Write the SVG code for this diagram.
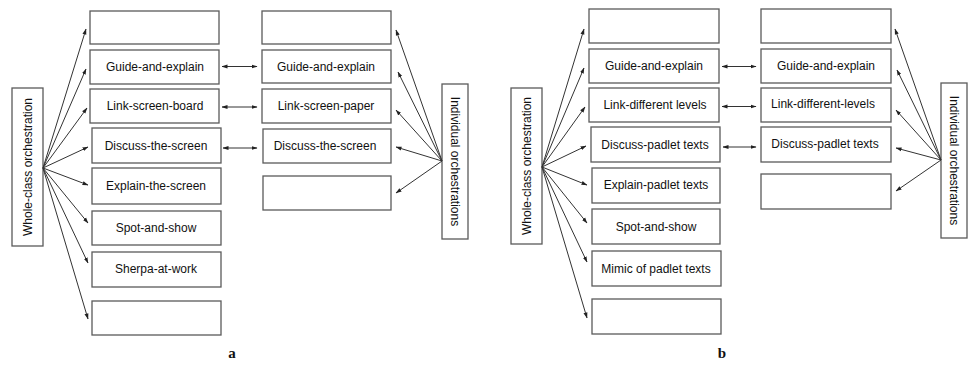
<svg xmlns="http://www.w3.org/2000/svg" width="968" height="372" viewBox="0 0 968 372">
<style>
.box{fill:#fff;stroke:#5a5a5a;stroke-width:1.3}
.t{font-family:"Liberation Sans",Arial,sans-serif;font-size:12px;fill:#111;text-anchor:middle;dominant-baseline:central}
.c{fill:none;stroke:#333;stroke-width:1}
.lab{font-family:"Liberation Serif","Times New Roman",serif;font-size:15px;font-weight:bold;fill:#111;text-anchor:middle}
</style>
<defs>
<marker id="ah" markerUnits="userSpaceOnUse" markerWidth="6" markerHeight="5" refX="5.5" refY="2.5" orient="auto-start-reverse">
<path d="M0,0.5 L6,2.5 L0,4.5 z" fill="#222"/>
</marker>
</defs>
<rect width="968" height="372" fill="#fff"/>

<!-- Panel a -->
<g id="a-whole"><rect class="box" x="12" y="88" width="31" height="158"/><text class="t" transform="translate(27.5,167) rotate(-90)">Whole-class orchestration</text></g>
<g id="a-L1"><rect class="box" x="90" y="11" width="129" height="33"/></g>
<g id="a-L2"><rect class="box" x="90" y="50" width="129" height="34"/><text class="t" x="155" y="67">Guide-and-explain</text></g>
<g id="a-L3"><rect class="box" x="90" y="89" width="129" height="34"/><text class="t" x="155" y="106">Link-screen-board</text></g>
<g id="a-L4"><rect class="box" x="92" y="128" width="129" height="35"/><text class="t" x="156" y="146">Discuss-the-screen</text></g>
<g id="a-L5"><rect class="box" x="92" y="168" width="129" height="36"/><text class="t" x="156" y="186">Explain-the-screen</text></g>
<g id="a-L6"><rect class="box" x="92" y="211" width="129" height="34"/><text class="t" x="156" y="228">Spot-and-show</text></g>
<g id="a-L7"><rect class="box" x="92" y="252" width="129" height="35"/><text class="t" x="156" y="269">Sherpa-at-work</text></g>
<g id="a-L8"><rect class="box" x="92" y="301" width="129" height="34"/></g>
<g id="a-R1"><rect class="box" x="262" y="11" width="129" height="33"/></g>
<g id="a-R2"><rect class="box" x="262" y="50" width="129" height="33"/><text class="t" x="326" y="67">Guide-and-explain</text></g>
<g id="a-R3"><rect class="box" x="262" y="89" width="129" height="34"/><text class="t" x="326" y="106">Link-screen-paper</text></g>
<g id="a-R4"><rect class="box" x="263" y="129" width="128" height="34"/><text class="t" x="325" y="146">Discuss-the-screen</text></g>
<g id="a-R5"><rect class="box" x="263" y="176" width="128" height="34"/></g>
<g id="a-ind"><rect class="box" x="442" y="84" width="26" height="155"/><text class="t" transform="translate(455,161.5) rotate(90)">Individual orchestrations</text></g>

<!-- Panel b -->
<g id="b-whole"><rect class="box" x="511" y="88" width="31" height="156"/><text class="t" transform="translate(526.5,166) rotate(-90)">Whole-class orchestration</text></g>
<g id="b-L1"><rect class="box" x="589" y="9" width="130" height="34"/></g>
<g id="b-L2"><rect class="box" x="589" y="49" width="130" height="34"/><text class="t" x="654" y="66">Guide-and-explain</text></g>
<g id="b-L3"><rect class="box" x="589" y="88" width="130" height="34"/><text class="t" x="655" y="105">Link-different levels</text></g>
<g id="b-L4"><rect class="box" x="591" y="127" width="129" height="35"/><text class="t" x="655" y="145">Discuss-padlet texts</text></g>
<g id="b-L5"><rect class="box" x="592" y="168" width="128" height="35"/><text class="t" x="656" y="185">Explain-padlet texts</text></g>
<g id="b-L6"><rect class="box" x="592" y="209" width="128" height="35"/><text class="t" x="656" y="227">Spot-and-show</text></g>
<g id="b-L7"><rect class="box" x="592" y="251" width="129" height="35"/><text class="t" x="656" y="269">Mimic of padlet texts</text></g>
<g id="b-L8"><rect class="box" x="592" y="299" width="129" height="35"/></g>
<g id="b-R1"><rect class="box" x="761" y="9" width="130" height="34"/></g>
<g id="b-R2"><rect class="box" x="761" y="49" width="130" height="34"/><text class="t" x="826" y="66">Guide-and-explain</text></g>
<g id="b-R3"><rect class="box" x="761" y="88" width="130" height="34"/><text class="t" x="823" y="104">Link-different-levels</text></g>
<g id="b-R4"><rect class="box" x="761" y="127" width="130" height="35"/><text class="t" x="825" y="144">Discuss-padlet texts</text></g>
<g id="b-R5"><rect class="box" x="761" y="174" width="130" height="35"/></g>
<g id="b-ind"><rect class="box" x="941" y="83" width="26" height="155"/><text class="t" transform="translate(954,160.5) rotate(90)">Individual orchestrations</text></g>

<g id="connectors">
<!-- a: whole-class fan -->
<line class="c" x1="43" y1="168" x2="86" y2="29" marker-end="url(#ah)"/>
<line class="c" x1="43" y1="168" x2="86" y2="69" marker-end="url(#ah)"/>
<line class="c" x1="43" y1="168" x2="87" y2="108" marker-end="url(#ah)"/>
<line class="c" x1="43" y1="168" x2="88" y2="147" marker-end="url(#ah)"/>
<line class="c" x1="43" y1="168" x2="88" y2="185" marker-end="url(#ah)"/>
<line class="c" x1="43" y1="168" x2="88" y2="223" marker-end="url(#ah)"/>
<line class="c" x1="43" y1="168" x2="88" y2="263" marker-end="url(#ah)"/>
<line class="c" x1="43" y1="168" x2="88" y2="319" marker-end="url(#ah)"/>
<!-- a: bidirectional -->
<line class="c" x1="222" y1="66.5" x2="257" y2="66.5" marker-start="url(#ah)" marker-end="url(#ah)"/>
<line class="c" x1="222" y1="107" x2="257" y2="107" marker-start="url(#ah)" marker-end="url(#ah)"/>
<line class="c" x1="223" y1="148" x2="257" y2="148" marker-start="url(#ah)" marker-end="url(#ah)"/>
<!-- a: individual fan -->
<line class="c" x1="442" y1="161" x2="396" y2="30" marker-end="url(#ah)"/>
<line class="c" x1="442" y1="161" x2="398" y2="72" marker-end="url(#ah)"/>
<line class="c" x1="442" y1="161" x2="396" y2="110" marker-end="url(#ah)"/>
<line class="c" x1="442" y1="161" x2="396" y2="147" marker-end="url(#ah)"/>
<line class="c" x1="442" y1="161" x2="396" y2="193" marker-end="url(#ah)"/>
<!-- b: whole-class fan -->
<line class="c" x1="542" y1="167" x2="584" y2="29" marker-end="url(#ah)"/>
<line class="c" x1="542" y1="167" x2="584" y2="68" marker-end="url(#ah)"/>
<line class="c" x1="542" y1="167" x2="585" y2="107" marker-end="url(#ah)"/>
<line class="c" x1="542" y1="167" x2="586" y2="146" marker-end="url(#ah)"/>
<line class="c" x1="542" y1="167" x2="587" y2="185" marker-end="url(#ah)"/>
<line class="c" x1="542" y1="167" x2="587" y2="223" marker-end="url(#ah)"/>
<line class="c" x1="542" y1="167" x2="587" y2="262" marker-end="url(#ah)"/>
<line class="c" x1="542" y1="167" x2="587" y2="318" marker-end="url(#ah)"/>
<!-- b: bidirectional -->
<line class="c" x1="722" y1="66.5" x2="756" y2="66.5" marker-start="url(#ah)" marker-end="url(#ah)"/>
<line class="c" x1="722" y1="106.5" x2="756" y2="106.5" marker-start="url(#ah)" marker-end="url(#ah)"/>
<line class="c" x1="723" y1="147" x2="756" y2="147" marker-start="url(#ah)" marker-end="url(#ah)"/>
<!-- b: individual fan -->
<line class="c" x1="941" y1="160" x2="895" y2="29" marker-end="url(#ah)"/>
<line class="c" x1="941" y1="160" x2="897" y2="70" marker-end="url(#ah)"/>
<line class="c" x1="941" y1="160" x2="896" y2="110" marker-end="url(#ah)"/>
<line class="c" x1="941" y1="160" x2="896" y2="148" marker-end="url(#ah)"/>
<line class="c" x1="941" y1="160" x2="896" y2="191" marker-end="url(#ah)"/>
</g>

<text class="lab" x="232" y="358">a</text>
<text class="lab" x="722" y="358">b</text>
</svg>
